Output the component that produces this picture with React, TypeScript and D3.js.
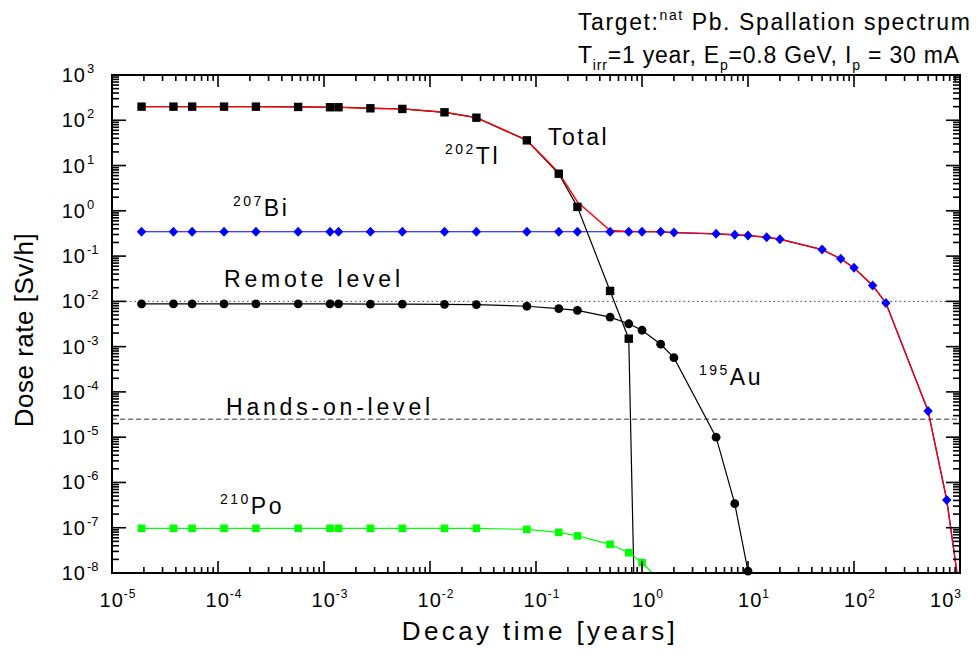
import React, { useEffect, useRef } from "react";
import * as d3 from "d3";

// decay times in years (10 min ... 1000 yr)
const times = [
  1.9e-5, 3.8e-5, 5.7e-5, 1.14e-4, 2.28e-4, 5.7e-4, 1.14e-3, 1.37e-3, 2.74e-3,
  5.48e-3, 1.37e-2, 2.74e-2, 0.082, 0.164, 0.246, 0.5, 0.75, 1, 1.5, 2, 5, 7.5,
  10, 15, 20, 50, 75, 100, 150, 200, 500, 750, 1000,
];

// dose rates [Sv/h]
const tlValues = [
  200, 200, 200, 200, 200, 197, 194, 194, 184, 178, 150, 114, 36, 6.6, 1.22,
  0.017, 0.0015, 4e-17,
];
const biValues = [
  0.345, 0.345, 0.345, 0.345, 0.345, 0.345, 0.345, 0.345, 0.345, 0.345, 0.345,
  0.345, 0.345, 0.345, 0.345, 0.345, 0.345, 0.345, 0.345, 0.33, 0.31, 0.295,
  0.284, 0.261, 0.236, 0.139, 0.087, 0.055, 0.0224, 0.0092, 3.8e-5, 4.1e-7,
  3.4e-9,
];
const auValues = [
  8.8e-3, 8.8e-3, 8.8e-3, 8.8e-3, 8.8e-3, 8.8e-3, 8.8e-3, 8.8e-3, 8.7e-3,
  8.7e-3, 8.6e-3, 8.5e-3, 7.8e-3, 6.9e-3, 6.3e-3, 4.5e-3, 3.2e-3, 2.3e-3,
  1.13e-3, 5.7e-4, 1.0e-5, 3.4e-7, 1.1e-8,
];
const poValues = [
  9.7e-8, 9.7e-8, 9.7e-8, 9.7e-8, 9.7e-8, 9.7e-8, 9.7e-8, 9.7e-8, 9.7e-8,
  9.7e-8, 9.7e-8, 9.7e-8, 9.2e-8, 7.9e-8, 6.6e-8, 4.3e-8, 2.8e-8, 1.7e-8,
  6.5e-9,
];
const totalValues = [
  200.4, 200.4, 200.4, 200.4, 200.4, 197.4, 194.4, 194.4, 184.4, 178.4, 150.4,
  114.4, 36.4, 6.95, 1.57, 0.367, 0.35, 0.347, 0.346, 0.33, 0.31, 0.295, 0.284,
  0.261, 0.236, 0.139, 0.087, 0.055, 0.0224, 0.0092, 3.8e-5, 4.1e-7, 3.4e-9,
];

const remoteLevel = 1e-2;
const handsOnLevel = 2.5e-5;

const xExponents = [-5, -4, -3, -2, -1, 0, 1, 2, 3];
const yExponents = [3, 2, 1, 0, -1, -2, -3, -4, -5, -6, -7, -8];

type Seg = { t: string; s?: "sup" | "sub" };

const FONT = "Arial, 'Liberation Sans', Helvetica, sans-serif";

const App = () => {
  const svgRef = useRef<SVGSVGElement | null>(null);

  useEffect(() => {
    if (!svgRef.current) return;
    const svg = d3.select(svgRef.current);
    svg.selectAll("*").remove();

    const left = 112,
      right = 960,
      top = 75,
      bottom = 573;

    const x = d3.scaleLog().domain([1e-5, 1e3]).range([left, right]);
    const y = d3.scaleLog().domain([1e-8, 1e3]).range([bottom, top]);

    svg
      .append("defs")
      .append("clipPath")
      .attr("id", "plot-clip")
      .append("rect")
      .attr("x", left)
      .attr("y", top)
      .attr("width", right - left)
      .attr("height", bottom - top);

    // rich text helper (superscripts / subscripts)
    function richText(
      px: number,
      py: number,
      segs: Seg[],
      size: number,
      spacing: number,
      anchor = "start"
    ) {
      const t = svg
        .append("text")
        .attr("x", px)
        .attr("y", py)
        .attr("text-anchor", anchor)
        .style("font-family", FONT)
        .style("font-size", `${size}px`)
        .style("letter-spacing", `${spacing}px`)
        .attr("fill", "#000");
      let shift = 0;
      segs.forEach((sg) => {
        const target = sg.s === "sup" ? -size * 0.45 : sg.s === "sub" ? size * 0.3 : 0;
        t.append("tspan")
          .attr("dy", target - shift)
          .style("font-size", sg.s ? `${Math.round(size * 0.6)}px` : `${size}px`)
          .text(sg.t);
        shift = target;
      });
      return t;
    }

    // reference levels
    svg
      .append("line")
      .attr("x1", left)
      .attr("x2", right)
      .attr("y1", y(remoteLevel))
      .attr("y2", y(remoteLevel))
      .attr("stroke", "#444")
      .attr("stroke-width", 1)
      .attr("stroke-dasharray", "1.5,3");
    svg
      .append("line")
      .attr("x1", left)
      .attr("x2", right)
      .attr("y1", y(handsOnLevel))
      .attr("y2", y(handsOnLevel))
      .attr("stroke", "#333")
      .attr("stroke-width", 1)
      .attr("stroke-dasharray", "5,3");

    const line = d3
      .line<[number, number]>()
      .x((d) => x(d[0]))
      .y((d) => y(d[1]));

    const pairs = (vals: number[]) =>
      vals.map((v, i) => [times[i], v] as [number, number]);

    const series = [
      { vals: tlValues, color: "#000", w: 1.2 },
      { vals: auValues, color: "#000", w: 1.2 },
      { vals: biValues, color: "#0000ff", w: 1.2 },
      { vals: poValues, color: "#00ff00", w: 1.2 },
      { vals: totalValues, color: "#ff0000", w: 1.4 },
    ];
    const lines = svg.append("g").attr("clip-path", "url(#plot-clip)");
    series.forEach((s) => {
      lines
        .append("path")
        .attr("d", line(pairs(s.vals)))
        .attr("fill", "none")
        .attr("stroke", s.color)
        .attr("stroke-width", s.w);
    });

    const inside = (d: [number, number]) => d[1] >= 1e-8 && d[1] <= 1e3;
    const marks = svg.append("g");

    // 202Tl squares
    marks
      .selectAll("rect.tl")
      .data(pairs(tlValues).filter(inside))
      .enter()
      .append("rect")
      .attr("x", (d) => x(d[0]) - 4.2)
      .attr("y", (d) => y(d[1]) - 4.2)
      .attr("width", 8.4)
      .attr("height", 8.4)
      .attr("fill", "#000");

    // 195Au circles
    marks
      .selectAll("circle.au")
      .data(pairs(auValues).filter(inside))
      .enter()
      .append("circle")
      .attr("cx", (d) => x(d[0]))
      .attr("cy", (d) => y(d[1]))
      .attr("r", 4.4)
      .attr("fill", "#000");

    // 207Bi diamonds
    marks
      .selectAll("path.bi")
      .data(pairs(biValues).filter(inside))
      .enter()
      .append("path")
      .attr("d", (d) => {
        const cx = x(d[0]),
          cy = y(d[1]);
        return `M${cx},${cy - 5}L${cx + 4.7},${cy}L${cx},${cy + 5}L${cx - 4.7},${cy}Z`;
      })
      .attr("fill", "#0000ff");

    // 210Po squares
    marks
      .selectAll("rect.po")
      .data(pairs(poValues).filter(inside))
      .enter()
      .append("rect")
      .attr("x", (d) => x(d[0]) - 3.8)
      .attr("y", (d) => y(d[1]) - 3.8)
      .attr("width", 7.6)
      .attr("height", 7.6)
      .attr("fill", "#00ff00");

    // ticks (inward on all four sides)
    const axes = svg.append("g").attr("stroke", "#000");
    const minors = (exps: number[]) => {
      const out: { v: number; major: boolean }[] = [];
      const lo = d3.min(exps)!,
        hi = d3.max(exps)!;
      for (let e = lo; e <= hi; e++) {
        for (let m = 1; m <= 9; m++) {
          const v = m * Math.pow(10, e);
          if (e === hi && m > 1) break;
          out.push({ v, major: m === 1 });
        }
      }
      return out;
    };
    minors(xExponents).forEach((t) => {
      const px = x(t.v);
      const len = t.major ? 12 : 6;
      axes.append("line").attr("x1", px).attr("x2", px).attr("y1", bottom).attr("y2", bottom - len).attr("stroke-width", 1.6);
      axes.append("line").attr("x1", px).attr("x2", px).attr("y1", top).attr("y2", top + len).attr("stroke-width", 1.6);
    });
    minors(yExponents).forEach((t) => {
      const py = y(t.v);
      const len = t.major ? 14 : 7;
      axes.append("line").attr("x1", left).attr("x2", left + len).attr("y1", py).attr("y2", py).attr("stroke-width", 1.6);
      axes.append("line").attr("x1", right).attr("x2", right - len).attr("y1", py).attr("y2", py).attr("stroke-width", 1.6);
    });
    svg
      .append("rect")
      .attr("x", left)
      .attr("y", top)
      .attr("width", right - left)
      .attr("height", bottom - top)
      .attr("fill", "none")
      .attr("stroke", "#000")
      .attr("stroke-width", 2);

    // tick labels
    xExponents.forEach((e, i) => {
      const last = i === xExponents.length - 1;
      richText(
        last ? 962 : x(Math.pow(10, e)) + 6,
        607,
        [{ t: "10" }, { t: String(e), s: "sup" }],
        20,
        1,
        last ? "end" : "middle"
      );
    });
    yExponents.forEach((e) => {
      const py = y(Math.pow(10, e)) + 7;
      svg
        .append("text")
        .attr("x", 86)
        .attr("y", py)
        .attr("text-anchor", "end")
        .style("font-family", FONT)
        .style("font-size", "20px")
        .style("letter-spacing", "1px")
        .text("10");
      svg
        .append("text")
        .attr("x", 87)
        .attr("y", py - 9)
        .style("font-family", FONT)
        .style("font-size", "13px")
        .text(String(e));
    });

    // axis titles
    richText(540, 640, [{ t: "Decay time [years]" }], 26, 3.4, "middle");
    svg
      .append("text")
      .attr("transform", `translate(33,330) rotate(-90)`)
      .attr("text-anchor", "middle")
      .style("font-family", FONT)
      .style("font-size", "26px")
      .style("letter-spacing", "0.5px")
      .text("Dose rate [Sv/h]");

    // header
    richText(578, 30, [{ t: "Target:" }, { t: "nat", s: "sup" }, { t: " Pb. Spallation spectrum" }], 23, 1.6);
    richText(
      578,
      63,
      [
        { t: "T" },
        { t: "irr", s: "sub" },
        { t: "=1 year, E" },
        { t: "p", s: "sub" },
        { t: "=0.8 GeV, I" },
        { t: "p", s: "sub" },
        { t: " = 30 mA" },
      ],
      23,
      0.8
    );

    // annotations
    richText(548, 145, [{ t: "Total" }], 23, 2.5);
    richText(445, 164, [{ t: "202", s: "sup" }, { t: "Tl" }], 23, 2.5);
    richText(233, 216, [{ t: "207", s: "sup" }, { t: "Bi" }], 23, 2.5);
    richText(224, 287, [{ t: "Remote level" }], 23, 3.8);
    richText(226, 415, [{ t: "Hands-on-level" }], 23, 3.8);
    richText(699, 385, [{ t: "195", s: "sup" }, { t: "Au" }], 23, 2.5);
    richText(220, 514, [{ t: "210", s: "sup" }, { t: "Po" }], 23, 2.5);
  }, []);

  return (
    <div style={{ position: "absolute", left: 0, top: 0 }}>
      <svg ref={svgRef} width={977} height={654} style={{ display: "block", background: "#fff" }} />
    </div>
  );
};

export default App;
